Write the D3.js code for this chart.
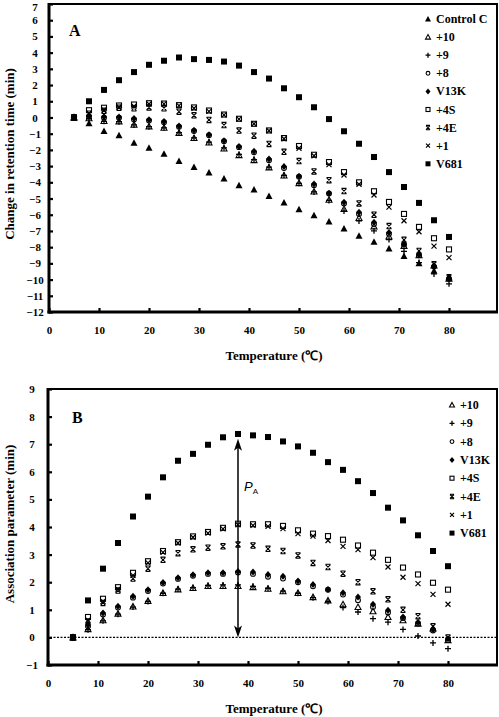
<!DOCTYPE html>
<html><head><meta charset="utf-8">
<script src="https://cdn.jsdelivr.net/npm/d3@7"></script>
<style>
html,body{margin:0;padding:0;background:#fff;}
svg{display:block;}
text{font-family:"Liberation Serif","Times New Roman",serif;font-weight:bold;fill:#000;}
</style></head><body>
<svg id="c" width="499" height="717"></svg>
<script>
const temps = [5,8,11,14,17,20,23,26,29,32,35,38,41,44,47,50,53,56,59,62,65,68,71,74,77,80];
const xTicks = [0,10,20,30,40,50,60,70,80];
const yTicksA = d3.range(-12, 8, 1);
const yTicksB = d3.range(-1, 10, 1);

// Panel A: change in retention time (min)
const controlC_A = [0,-0.35,-0.84,-1.10,-1.56,-1.87,-2.24,-2.69,-3.06,-3.40,-3.77,-4.18,-4.45,-4.84,-5.25,-5.66,-6.03,-6.42,-6.85,-7.30,-7.67,-8.08,-8.55,-9.00,-9.45,-9.85];
const p10_A = [0,-0.05,-0.22,-0.24,-0.44,-0.55,-0.63,-0.95,-1.27,-1.54,-1.91,-2.32,-2.63,-3.08,-3.58,-4.05,-4.57,-5.08,-5.65,-6.20,-6.72,-7.34,-7.93,-8.50,-9.13,-9.95];
const p9_A = [0,-0.07,-0.24,-0.26,-0.46,-0.57,-0.64,-0.94,-1.26,-1.52,-1.87,-2.28,-2.60,-3.06,-3.57,-4.06,-4.59,-5.12,-5.77,-6.38,-6.99,-7.53,-8.26,-8.95,-9.65,-10.26];
const p8_A = [0,0.05,-0.01,-0.02,-0.12,-0.19,-0.29,-0.57,-0.83,-1.10,-1.47,-1.83,-2.15,-2.64,-3.12,-3.66,-4.18,-4.69,-5.30,-5.95,-6.57,-7.18,-7.85,-8.50,-9.20,-9.95];
const v13k_A = [0,0.10,0.04,0.03,-0.07,-0.14,-0.25,-0.53,-0.79,-1.06,-1.43,-1.79,-2.08,-2.56,-3.03,-3.62,-4.11,-4.68,-5.23,-5.84,-6.47,-7.10,-7.81,-8.45,-9.16,-9.90];
const p4s_A = [0,0.45,0.60,0.74,0.80,0.88,0.86,0.76,0.62,0.43,0.18,-0.08,-0.39,-0.80,-1.27,-1.76,-2.30,-2.75,-3.37,-4.00,-4.55,-5.21,-5.95,-6.75,-7.45,-8.14];
const p4e_A = [0,0.23,0.41,0.60,0.57,0.62,0.57,0.36,0.13,-0.15,-0.47,-0.81,-1.12,-1.63,-2.12,-2.69,-3.33,-3.87,-4.54,-5.30,-6.00,-6.70,-7.55,-8.23,-9.05,-9.85];
const p1_A = [0,0.27,0.46,0.65,0.69,0.83,0.84,0.73,0.57,0.38,0.16,-0.10,-0.39,-0.82,-1.31,-1.90,-2.36,-2.91,-3.55,-4.12,-4.78,-5.53,-6.37,-7.05,-7.94,-8.65];
const v681_A = [0,1.00,1.70,2.30,2.80,3.25,3.50,3.70,3.60,3.55,3.45,3.20,2.80,2.40,1.80,1.25,0.63,-0.10,-0.85,-1.62,-2.44,-3.37,-4.29,-5.27,-6.34,-7.37];

// Panel B: association parameter (min)
const p10_B = [0,0.30,0.62,0.86,1.12,1.32,1.61,1.74,1.79,1.86,1.86,1.86,1.82,1.76,1.67,1.61,1.46,1.34,1.20,1.10,0.95,0.74,0.62,0.50,0.32,-0.10];
const p9_B = [0,0.28,0.60,0.84,1.10,1.30,1.60,1.75,1.80,1.88,1.90,1.90,1.85,1.78,1.68,1.60,1.44,1.30,1.08,0.92,0.68,0.55,0.29,0.05,-0.20,-0.41];
const p8_B = [0,0.40,0.83,1.08,1.44,1.68,1.95,2.12,2.23,2.30,2.30,2.35,2.30,2.20,2.13,2.00,1.85,1.73,1.55,1.35,1.10,0.90,0.70,0.50,0.25,-0.10];
const v13k_B = [0,0.45,0.88,1.13,1.49,1.73,1.99,2.16,2.27,2.34,2.34,2.39,2.37,2.28,2.22,2.04,1.92,1.74,1.62,1.46,1.20,0.98,0.74,0.55,0.29,-0.05];
const p4s_B = [0,0.74,1.40,1.82,2.34,2.76,3.13,3.45,3.66,3.82,3.97,4.12,4.10,4.10,4.04,3.88,3.76,3.67,3.54,3.33,3.07,2.81,2.53,2.28,1.98,1.73];
const p4e_B = [0,0.58,1.25,1.70,2.13,2.49,2.81,3.05,3.19,3.25,3.30,3.37,3.33,3.21,3.13,2.97,2.70,2.55,2.31,2.00,1.67,1.38,1.00,0.77,0.40,0.00];
const p1_B = [0,0.62,1.30,1.75,2.25,2.70,3.08,3.42,3.63,3.78,3.93,4.08,4.06,4.02,3.94,3.76,3.67,3.51,3.30,3.18,2.89,2.55,2.18,1.95,1.56,1.20];
const v681_B = [0,1.34,2.49,3.42,4.38,5.10,5.80,6.40,6.65,6.98,7.25,7.37,7.32,7.26,7.10,6.92,6.69,6.35,6.07,5.66,5.23,4.70,4.24,3.70,3.13,2.58];

const seriesA = [
  {name:"Control C", m:"triF", v:controlC_A},
  {name:"+10", m:"triO", v:p10_A},
  {name:"+9", m:"plus", v:p9_A},
  {name:"+8", m:"circO", v:p8_A},
  {name:"V13K", m:"diaF", v:v13k_A},
  {name:"+4S", m:"sqO", v:p4s_A},
  {name:"+4E", m:"star", v:p4e_A},
  {name:"+1", m:"x", v:p1_A},
  {name:"V681", m:"sqF", v:v681_A}
];
const seriesB = [
  {name:"+10", m:"triO", v:p10_B},
  {name:"+9", m:"plus", v:p9_B},
  {name:"+8", m:"circO", v:p8_B},
  {name:"V13K", m:"diaF", v:v13k_B},
  {name:"+4S", m:"sqO", v:p4s_B},
  {name:"+4E", m:"star", v:p4e_B},
  {name:"+1", m:"x", v:p1_B},
  {name:"V681", m:"sqF", v:v681_B}
];

const svg = d3.select("#c");

function marker(g, type, x, y, s) {
  const h = s/2;
  const sw = 1.1;
  switch(type) {
    case "triF":
      g.append("path").attr("d", `M${x},${y-h-0.5}L${x+h+0.5},${y+h}L${x-h-0.5},${y+h}Z`).attr("fill","#000"); break;
    case "triO":
      g.append("path").attr("d", `M${x},${y-h}L${x+h},${y+h-0.5}L${x-h},${y+h-0.5}Z`).attr("fill","none").attr("stroke","#000").attr("stroke-width",sw); break;
    case "plus":
      g.append("path").attr("d", `M${x-h},${y}H${x+h}M${x},${y-h}V${y+h}`).attr("stroke","#000").attr("stroke-width",1.3); break;
    case "circO":
      g.append("circle").attr("cx",x).attr("cy",y).attr("r",h-0.6).attr("fill","none").attr("stroke","#000").attr("stroke-width",sw); break;
    case "diaF":
      g.append("path").attr("d", `M${x},${y-h-0.5}L${x+h},${y}L${x},${y+h+0.5}L${x-h},${y}Z`).attr("fill","#000"); break;
    case "sqO":
      g.append("rect").attr("x",x-h+0.5).attr("y",y-h+0.5).attr("width",s-1).attr("height",s-1).attr("fill","none").attr("stroke","#000").attr("stroke-width",sw); break;
    case "star":
      g.append("path").attr("d", `M${x-h+0.5},${y-h+0.5}L${x+h-0.5},${y+h-0.5}M${x+h-0.5},${y-h+0.5}L${x-h+0.5},${y+h-0.5}M${x-h+0.5},${y-h+0.3}H${x+h-0.5}M${x-h+0.5},${y+h-0.3}H${x+h-0.5}`).attr("stroke","#000").attr("stroke-width",1.1); break;
    case "x":
      g.append("path").attr("d", `M${x-h+0.5},${y-h+0.5}L${x+h-0.5},${y+h-0.5}M${x+h-0.5},${y-h+0.5}L${x-h+0.5},${y+h-0.5}`).attr("stroke","#000").attr("stroke-width",1.2); break;
    case "sqF":
      g.append("rect").attr("x",x-h).attr("y",y-h).attr("width",s).attr("height",s).attr("fill","#000"); break;
  }
}

function panel(cfg) {
  const x = d3.scaleLinear().domain([0, 80]).range([cfg.left, cfg.left + 400]);
  const y = d3.scaleLinear().domain(cfg.ydom).range([cfg.bottom, cfg.top]);
  const g = svg.append("g");
  // frame top & right
  g.append("path").attr("d", `M${cfg.left},${cfg.top}H${cfg.right}V${cfg.bottom}`)
    .attr("fill","none").attr("stroke","#000").attr("stroke-width",2);

  // x axis
  const xa = g.append("g").attr("transform",`translate(0,${cfg.bottom})`)
    .call(d3.axisBottom(x).tickValues(xTicks).tickSize(-4).tickPadding(14).tickFormat(d3.format("d")));
  xa.select(".domain").remove();
  xa.selectAll(".tick line").attr("stroke-width",2.2);
  xa.selectAll("text").attr("font-size",11).attr("fill","#000");
  g.append("line").attr("x1",cfg.left-1.5).attr("x2",cfg.right+1).attr("y1",cfg.bottom).attr("y2",cfg.bottom)
    .attr("stroke","#000").attr("stroke-width",3);

  // y axis
  const ya = g.append("g").attr("transform",`translate(${cfg.left},0)`)
    .call(d3.axisLeft(y).tickValues(cfg.yticks).tickSize(-4).tickPadding(0).tickFormat(d3.format("d")));
  ya.select(".domain").remove();
  ya.selectAll(".tick line").attr("stroke-width",2.2);
  ya.selectAll("text").attr("font-size",11).attr("fill","#000")
    .attr("text-anchor","middle").attr("x", cfg.ylabX - cfg.left)
    .attr("dy", d => (y(d) < 8 ? "0.6em" : "0.32em"));
  g.append("line").attr("x1",cfg.left).attr("x2",cfg.left).attr("y1",cfg.top-1).attr("y2",cfg.bottom+1.5)
    .attr("stroke","#000").attr("stroke-width",3);

  // titles
  g.append("text").attr("x",274).attr("y",cfg.xTitleY).attr("text-anchor","middle")
    .attr("font-size",13).text("Temperature (℃)");
  g.append("text").attr("transform",`translate(14,${cfg.yTitleY}) rotate(-90)`).attr("text-anchor","middle")
    .attr("font-size",13).text(cfg.ytitle);
  g.append("text").attr("x",cfg.letterX).attr("y",cfg.letterY).attr("font-size",16).text(cfg.letter);

  if (cfg.extra) cfg.extra(g, x, y);

  // data
  const dg = g.append("g");
  cfg.series.forEach(s => {
    s.v.forEach((v, i) => marker(dg, s.m, x(temps[i]), y(v), 6));
  });

  // legend
  const lg = g.append("g");
  cfg.series.forEach((s, i) => {
    const yy = cfg.legY + i * cfg.legStep;
    marker(lg, s.m, cfg.legX, yy, 5);
    lg.append("text").attr("x", cfg.legX + 8).attr("y", yy + 4).attr("font-size",12).text(s.name);
  });
}

panel({
  left:49, right:497, top:4, bottom:312, ydom:[-12,7], yticks:yTicksA, ylabX:35,
  xTitleY:360, yTitleY:154, ytitle:"Change in retention time (min)",
  letter:"A", letterX:69, letterY:36, series:seriesA,
  legX:428, legY:19, legStep:18.1
});

panel({
  left:48, right:497, top:389, bottom:665, ydom:[-1,9], yticks:yTicksB, ylabX:32,
  xTitleY:713, yTitleY:524, ytitle:"Association parameter (min)",
  letter:"B", letterX:72, letterY:423, series:seriesB,
  legX:452, legY:405, legStep:18.3,
  extra:(g, x, y) => {
    g.append("line").attr("x1",x(0)+2).attr("x2",496).attr("y1",y(0)).attr("y2",y(0))
      .attr("stroke","#000").attr("stroke-width",1.2).attr("stroke-dasharray","2,1.5");
    const ax = x(38), y0 = y(0), y1 = y(7.2);
    g.append("line").attr("x1",ax).attr("x2",ax).attr("y1",y0-4).attr("y2",y1+4)
      .attr("stroke","#000").attr("stroke-width",1.5);
    g.append("path").attr("d",`M${ax},${y1}L${ax+4},${y1+12}L${ax},${y1+9}L${ax-4},${y1+12}Z`).attr("fill","#000");
    g.append("path").attr("d",`M${ax},${y0}L${ax+4},${y0-12}L${ax},${y0-9}L${ax-4},${y0-12}Z`).attr("fill","#000");
    const t = g.append("text").attr("x",ax+6).attr("y",y(5.3)).attr("font-size",13)
      .style("font-family","'Liberation Sans',Arial,sans-serif").style("font-weight","normal").style("font-style","italic");
    t.append("tspan").text("P");
    t.append("tspan").attr("dy",3).attr("font-size",8).style("font-style","normal").text("A");
  }
});
</script>
</body></html>
